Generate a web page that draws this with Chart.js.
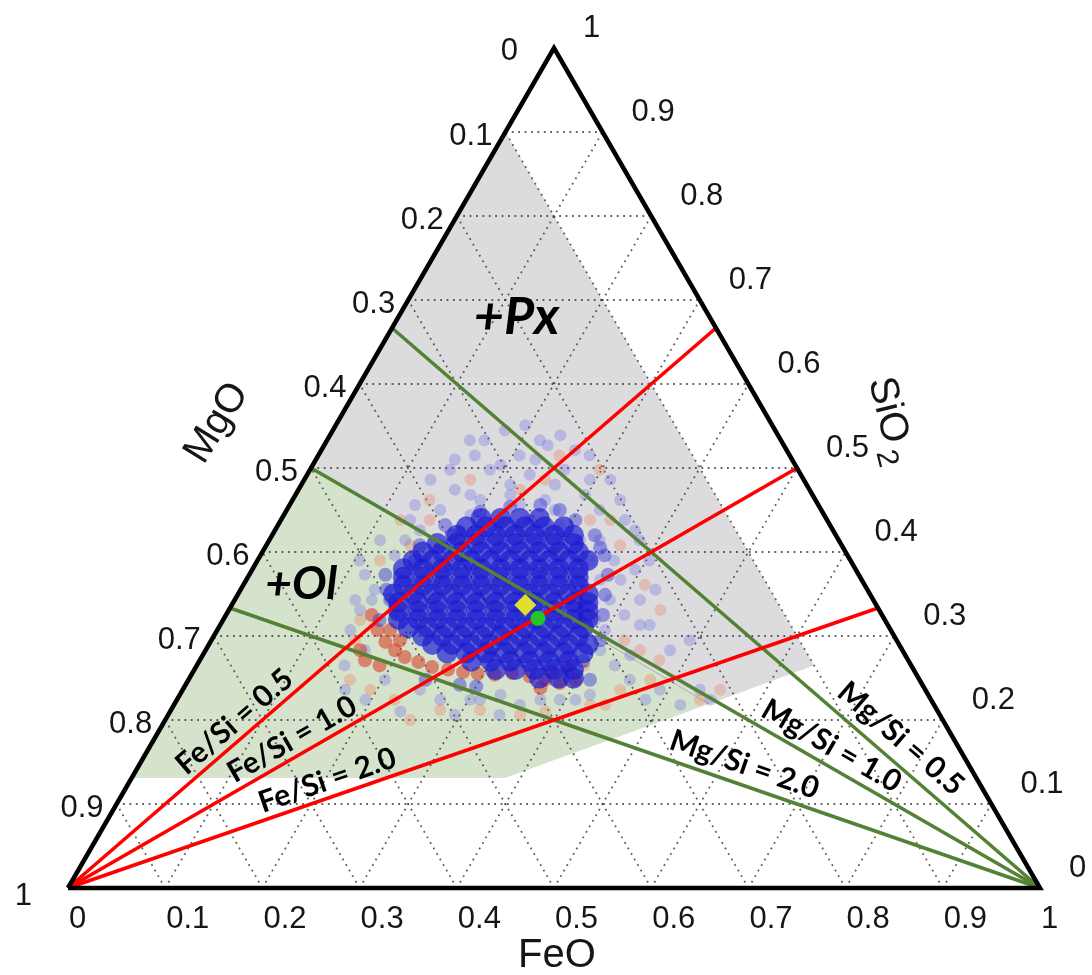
<!DOCTYPE html>
<html>
<head>
<meta charset="utf-8">
<script src="https://cdn.jsdelivr.net/npm/chart.js@4.4.1/dist/chart.umd.min.js"></script>
<style>
  html, body { margin: 0; padding: 0; background: #fff; }
  canvas { display: block; }
</style>
</head>
<body>
<canvas id="tern" width="1092" height="975"></canvas>
<script>
// Compositions are written as [FeO, SiO2] fractions; MgO = 1 - FeO - SiO2.
const tickValues = [0, 0.1, 0.2, 0.3, 0.4, 0.5, 0.6, 0.7, 0.8, 0.9, 1];
const tickLabels = ['0', '0.1', '0.2', '0.3', '0.4', '0.5', '0.6', '0.7', '0.8', '0.9', '1'];
const gridLevels = [0.1, 0.2, 0.3, 0.4, 0.5, 0.6, 0.7, 0.8, 0.9];

const feSiRatios = [0.5, 1.0, 2.0];
const feSiLabels = ['Fe/Si = 0.5', 'Fe/Si = 1.0', 'Fe/Si = 2.0'];
const mgSiRatios = [0.5, 1.0, 2.0];
const mgSiLabels = ['Mg/Si = 0.5', 'Mg/Si = 1.0', 'Mg/Si = 2.0'];

// Stability fields
const pxField = [[0, 0.9], [0.635, 0.265], [0.550, 0.219], [0, 0.5]];
const olField = [[0, 0.5], [0.550, 0.219], [0.384, 0.131], [0, 0.131]];

// Dense part of the sample cloud, rows of equal SiO2: [SiO2, [FeO, ...]]
const blueCoreRows = [
  [0.44, [0.205, 0.225, 0.245, 0.265]],
  [0.43, [0.195, 0.215, 0.235, 0.255, 0.275, 0.295]],
  [0.42, [0.19, 0.21, 0.23, 0.25, 0.27, 0.29, 0.31]],
  [0.41, [0.175, 0.195, 0.215, 0.235, 0.255, 0.275, 0.295, 0.315]],
  [0.40, [0.165, 0.185, 0.205, 0.225, 0.245, 0.265, 0.285, 0.305, 0.325]],
  [0.39, [0.16, 0.18, 0.2, 0.22, 0.24, 0.26, 0.28, 0.3, 0.32, 0.34]],
  [0.38, [0.155, 0.175, 0.195, 0.215, 0.235, 0.255, 0.275, 0.295, 0.315, 0.335]],
  [0.37, [0.16, 0.18, 0.2, 0.22, 0.24, 0.26, 0.28, 0.3, 0.32, 0.34]],
  [0.36, [0.165, 0.185, 0.205, 0.225, 0.245, 0.265, 0.285, 0.305, 0.325, 0.345]],
  [0.35, [0.16, 0.18, 0.2, 0.22, 0.24, 0.26, 0.28, 0.3, 0.32, 0.34, 0.36]],
  [0.34, [0.17, 0.19, 0.21, 0.23, 0.25, 0.27, 0.29, 0.31, 0.33, 0.35, 0.365]],
  [0.33, [0.175, 0.195, 0.215, 0.235, 0.255, 0.275, 0.295, 0.315, 0.335, 0.355, 0.37]],
  [0.32, [0.18, 0.2, 0.22, 0.24, 0.26, 0.28, 0.3, 0.32, 0.34, 0.36, 0.375]],
  [0.31, [0.195, 0.215, 0.235, 0.255, 0.275, 0.295, 0.315, 0.335, 0.355, 0.375]],
  [0.30, [0.215, 0.235, 0.255, 0.275, 0.295, 0.315, 0.335, 0.355, 0.375]],
  [0.29, [0.23, 0.25, 0.27, 0.29, 0.31, 0.33, 0.35, 0.37, 0.39]],
  [0.28, [0.25, 0.27, 0.29, 0.31, 0.33, 0.35, 0.37, 0.39]],
  [0.27, [0.28, 0.30, 0.32, 0.34, 0.36, 0.38]],
  [0.26, [0.31, 0.33, 0.35, 0.37, 0.39]],
  [0.25, [0.36, 0.38, 0.395]]
];

const blueMid = [
  [0.172, 0.432], [0.200, 0.448], [0.303, 0.438], [0.332, 0.420], [0.354, 0.396],
  [0.369, 0.373], [0.378, 0.349], [0.388, 0.325], [0.400, 0.295], [0.140, 0.373],
  [0.161, 0.319], [0.160, 0.343], [0.244, 0.248], [0.282, 0.242], [0.413, 0.248],
  [0.158, 0.408], [0.162, 0.390], [0.258, 0.456], [0.281, 0.450], [0.228, 0.454],
  [0.150, 0.355], [0.185, 0.420], [0.345, 0.405], [0.395, 0.270], [0.300, 0.240]
];

const blueHalo = [
  [0.147, 0.533], [0.177, 0.545], [0.207, 0.515], [0.230, 0.527], [0.185, 0.498],
  [0.229, 0.492], [0.262, 0.498], [0.161, 0.474], [0.193, 0.462], [0.221, 0.468],
  [0.260, 0.462], [0.298, 0.468], [0.315, 0.486], [0.158, 0.450], [0.322, 0.450],
  [0.354, 0.438], [0.149, 0.426], [0.381, 0.414], [0.143, 0.510], [0.261, 0.521],
  [0.114, 0.414], [0.138, 0.396], [0.119, 0.373], [0.138, 0.355], [0.135, 0.331],
  [0.137, 0.307], [0.141, 0.343], [0.340, 0.414], [0.367, 0.390], [0.385, 0.367],
  [0.394, 0.379], [0.386, 0.343], [0.410, 0.325], [0.399, 0.307], [0.417, 0.343],
  [0.442, 0.313], [0.406, 0.283], [0.430, 0.265], [0.454, 0.248], [0.491, 0.236],
  [0.532, 0.236], [0.549, 0.224], [0.482, 0.224], [0.244, 0.236], [0.271, 0.224],
  [0.302, 0.224], [0.330, 0.230], [0.356, 0.218], [0.394, 0.224], [0.422, 0.230],
  [0.237, 0.210], [0.295, 0.206], [0.341, 0.206], [0.190, 0.426], [0.225, 0.438],
  [0.256, 0.438], [0.290, 0.432], [0.320, 0.414], [0.179, 0.408], [0.192, 0.444],
  [0.237, 0.456], [0.276, 0.450], [0.133, 0.438], [0.342, 0.390], [0.364, 0.367],
  [0.383, 0.319], [0.202, 0.248], [0.194, 0.224], [0.167, 0.236], [0.219, 0.533],
  [0.478, 0.283], [0.492, 0.295], [0.521, 0.218],
  [0.144, 0.498], [0.161, 0.515], [0.193, 0.504], [0.226, 0.510], [0.261, 0.480],
  [0.294, 0.486], [0.337, 0.462], [0.370, 0.426], [0.403, 0.390], [0.427, 0.355],
  [0.432, 0.313], [0.440, 0.277], [0.130, 0.486], [0.129, 0.456], [0.140, 0.414],
  [0.105, 0.390], [0.124, 0.343], [0.164, 0.283], [0.152, 0.265], [0.162, 0.533],
  [0.195, 0.551], [0.237, 0.539], [0.279, 0.515], [0.215, 0.480], [0.180, 0.468],
  [0.410, 0.224], [0.374, 0.224], [0.312, 0.224]
];

const redCore = [
  [0.150, 0.325], [0.165, 0.307], [0.180, 0.293], [0.195, 0.283], [0.209, 0.275],
  [0.226, 0.269], [0.243, 0.263], [0.261, 0.260], [0.278, 0.257], [0.294, 0.255],
  [0.312, 0.254], [0.329, 0.256], [0.349, 0.252], [0.367, 0.248], [0.384, 0.244],
  [0.398, 0.248], [0.369, 0.257], [0.383, 0.262], [0.367, 0.238], [0.178, 0.307],
  [0.194, 0.295], [0.159, 0.283], [0.170, 0.271], [0.188, 0.265]
];

const redHalo = [
  [0.123, 0.438], [0.141, 0.462], [0.248, 0.515], [0.318, 0.438], [0.364, 0.408],
  [0.413, 0.361], [0.444, 0.331], [0.148, 0.295], [0.166, 0.248], [0.193, 0.236],
  [0.224, 0.224], [0.252, 0.200], [0.277, 0.212], [0.318, 0.212], [0.362, 0.206],
  [0.386, 0.210], [0.428, 0.218], [0.450, 0.236], [0.475, 0.248], [0.553, 0.236],
  [0.538, 0.224], [0.126, 0.390], [0.148, 0.408], [0.298, 0.498], [0.171, 0.486],
  [0.248, 0.486], [0.425, 0.295], [0.399, 0.265], [0.444, 0.218], [0.473, 0.271],
  [0.153, 0.438], [0.228, 0.474], [0.339, 0.438], [0.447, 0.283], [0.141, 0.319]
];

const diamondPoint = [0.302, 0.337];
const circlePoint = [0.323, 0.321];

// ---- ternary helpers ----
const R3 = Math.sqrt(3) / 2;
const tern = (f, s) => ({ x: f + s / 2, y: s * R3 });
const toPts = arr => arr.map(([f, s]) => tern(f, s));
const blueCore = [];
blueCoreRows.forEach(([s, fs]) => fs.forEach(f => blueCore.push([f, s])));

const datasets = [];

// dotted triangular grid
gridLevels.forEach(k => {
  [[[0, k], [1 - k, k]],          // constant SiO2
   [[k, 0], [k, 1 - k]],          // constant FeO
   [[1 - k, 0], [0, 1 - k]]]      // constant MgO
    .forEach(seg => datasets.push({
      data: toPts(seg), showLine: true, pointRadius: 0, fill: false,
      borderColor: 'rgba(55,55,55,0.8)', borderWidth: 1.8, borderDash: [1.8, 4.6],
      clip: false, order: 10
    }));
});

const cloud = (data, color, r, order) => ({
  data: toPts(data), showLine: false, pointRadius: r, pointBorderWidth: 0,
  pointBackgroundColor: color, pointBorderColor: color, clip: false, order
});
datasets.push(cloud(redHalo, 'rgba(232,120,90,0.32)', 6, 7));
datasets.push(cloud(blueHalo, 'rgba(100,100,228,0.30)', 6, 6));
datasets.push(cloud(redCore, 'rgba(215,55,30,0.55)', 7, 5));
datasets.push(cloud(blueMid, 'rgba(50,50,212,0.45)', 7, 4));
datasets.push(cloud(blueCore, 'rgba(26,26,208,0.68)', 10.5, 3));

// constant Fe/Si lines from the MgO corner, constant Mg/Si lines from the FeO corner
feSiRatios.forEach(r => datasets.push({
  data: toPts([[0, 0], [r / (1 + r), 1 / (1 + r)]]), showLine: true, pointRadius: 0,
  borderColor: '#ff0000', borderWidth: 3.6, fill: false, clip: false, order: 2
}));
mgSiRatios.forEach(r => datasets.push({
  data: toPts([[1, 0], [0, 1 / (1 + r)]]), showLine: true, pointRadius: 0,
  borderColor: '#548235', borderWidth: 3.6, fill: false, clip: false, order: 2
}));

// triangle frame
datasets.push({
  data: toPts([[0, 0], [1, 0], [0, 1], [0, 0]]), showLine: true, pointRadius: 0,
  borderColor: '#000', borderWidth: 4.5, borderJoinStyle: 'miter', fill: false, clip: false, order: 1
});

datasets.push({
  data: toPts([diamondPoint]), pointStyle: 'rectRot', pointRadius: 11, pointBorderWidth: 0,
  pointBackgroundColor: '#e0df2c', clip: false, order: 0
});
datasets.push({
  data: toPts([circlePoint]), pointStyle: 'circle', pointRadius: 7.5, pointBorderWidth: 0,
  pointBackgroundColor: '#22c522', clip: false, order: 0
});

function pixel(chart, f, s) {
  return {
    x: chart.scales.x.getPixelForValue(f + s / 2),
    y: chart.scales.y.getPixelForValue(s * R3)
  };
}

// shaded fields under everything else
const fieldsPlugin = {
  id: 'fields',
  beforeDatasetsDraw(chart) {
    const ctx = chart.ctx;
    const poly = (arr, color) => {
      ctx.beginPath();
      arr.forEach(([f, s], i) => {
        const p = pixel(chart, f, s);
        i ? ctx.lineTo(p.x, p.y) : ctx.moveTo(p.x, p.y);
      });
      ctx.closePath();
      ctx.fillStyle = color;
      ctx.fill();
    };
    ctx.save();
    poly(pxField, '#dcdcdf');
    poly(olField, '#d6e3cc');
    const a = pixel(chart, olField[0][0], olField[0][1]);
    const b = pixel(chart, olField[1][0], olField[1][1]);
    ctx.strokeStyle = 'rgba(160,160,160,0.8)';
    ctx.lineWidth = 1;
    ctx.beginPath(); ctx.moveTo(a.x, a.y); ctx.lineTo(b.x, b.y); ctx.stroke();
    ctx.restore();
  }
};

// ticks, axis names and annotations
const labelsPlugin = {
  id: 'ternLabels',
  afterDraw(chart) {
    const ctx = chart.ctx;
    const P = (f, s) => pixel(chart, f, s);
    ctx.save();
    ctx.fillStyle = '#161616';
    ctx.font = '31px "Liberation Sans", Arial, sans-serif';
    ctx.textBaseline = 'middle';

    ctx.textAlign = 'left';
    tickValues.forEach((v, i) => {            // FeO along the base
      const p = P(v, 0);
      ctx.fillText(tickLabels[i], p.x + 1, p.y + 31);
    });
    tickValues.forEach((v, i) => {            // SiO2 along the right side
      const p = P(1 - v, v);
      ctx.fillText(tickLabels[i], p.x + 29, p.y - 20);
    });
    ctx.textAlign = 'right';
    tickValues.forEach((v, i) => {            // MgO along the left side
      const p = P(0, 1 - v);
      const dx = (v === 0 || v === 1) ? 36 : 13;
      const dy = v === 0 ? 3 : (v === 1 ? 8 : 4);
      ctx.fillText(tickLabels[i], p.x - dx, p.y + dy);
    });

    // axis names
    ctx.font = '40px "Liberation Sans", Arial, sans-serif';
    ctx.textAlign = 'center';
    const base = P(0.5, 0);
    ctx.fillText('FeO', base.x + 3, base.y + 68);

    const left = P(0, 0.5);
    ctx.save();
    ctx.translate(left.x - 94, left.y - 45);
    ctx.rotate(-58 * Math.PI / 180);
    ctx.fillText('MgO', 0, 0);
    ctx.restore();

    const right = P(0.5, 0.5);
    ctx.save();
    ctx.translate(right.x + 96, right.y - 48);
    ctx.rotate(76 * Math.PI / 180);
    ctx.textAlign = 'left';
    ctx.textBaseline = 'alphabetic';
    ctx.font = '40px "Liberation Sans", Arial, sans-serif';
    const w1 = ctx.measureText('SiO').width;
    ctx.font = '30px "Liberation Sans", Arial, sans-serif';
    const w2 = ctx.measureText('2').width;
    const x0 = -(w1 + 5 + w2) / 2;
    ctx.font = '40px "Liberation Sans", Arial, sans-serif';
    ctx.fillText('SiO', x0, 14);
    ctx.font = '30px "Liberation Sans", Arial, sans-serif';
    ctx.fillText('2', x0 + w1 + 5, 24);
    ctx.restore();

    // field names
    ctx.fillStyle = '#000';
    ctx.textAlign = 'center';
    ctx.textBaseline = 'middle';
    ctx.font = 'italic bold 52px Lato, sans-serif';
    const px = P(0.122, 0.679);
    ctx.fillText('+Px', px.x, px.y);
    ctx.font = 'italic bold 46px Lato, sans-serif';
    const ol = P(0.059, 0.362);
    ctx.fillText('+Ol', ol.x, ol.y);

    // ratio line names
    ctx.font = 'bold 30px Lato, sans-serif';
    const feT = [0.274, 0.319, 0.327];
    feSiRatios.forEach((r, i) => {
      const a = P(0, 0), b = P(r / (1 + r), 1 / (1 + r));
      const dx = b.x - a.x, dy = b.y - a.y, L = Math.hypot(dx, dy);
      const ux = dx / L, uy = dy / L;
      const cx = a.x + dx * feT[i] + uy * 17;
      const cy = a.y + dy * feT[i] - ux * 17;
      ctx.save();
      ctx.translate(cx, cy);
      ctx.rotate(Math.atan2(dy, dx));
      ctx.fillText(feSiLabels[i], 0, 0);
      ctx.restore();
    });
    const mgT = [0.237, 0.299, 0.373];
    const mgOff = [22, 19, 20];
    mgSiRatios.forEach((r, i) => {
      const a = P(1, 0), b = P(0, 1 / (1 + r));
      const dx = b.x - a.x, dy = b.y - a.y, L = Math.hypot(dx, dy);
      const ux = dx / L, uy = dy / L;
      const cx = a.x + dx * mgT[i] - uy * mgOff[i];
      const cy = a.y + dy * mgT[i] + ux * mgOff[i];
      ctx.save();
      ctx.translate(cx, cy);
      ctx.rotate(Math.atan2(-dy, -dx));
      ctx.fillText(mgSiLabels[i], 0, 0);
      ctx.restore();
    });
    ctx.restore();
  }
};

new Chart(document.getElementById('tern'), {
  type: 'scatter',
  data: { datasets },
  options: {
    responsive: false,
    animation: false,
    events: [],
    layout: { padding: { left: 68, right: 52, top: 48, bottom: 87 } },
    scales: {
      x: { type: 'linear', min: 0, max: 1, display: false },
      y: { type: 'linear', min: 0, max: R3, display: false }
    },
    plugins: { legend: { display: false }, tooltip: { enabled: false } },
    elements: { line: { tension: 0 } }
  },
  plugins: [fieldsPlugin, labelsPlugin]
});
</script>
</body>
</html>
